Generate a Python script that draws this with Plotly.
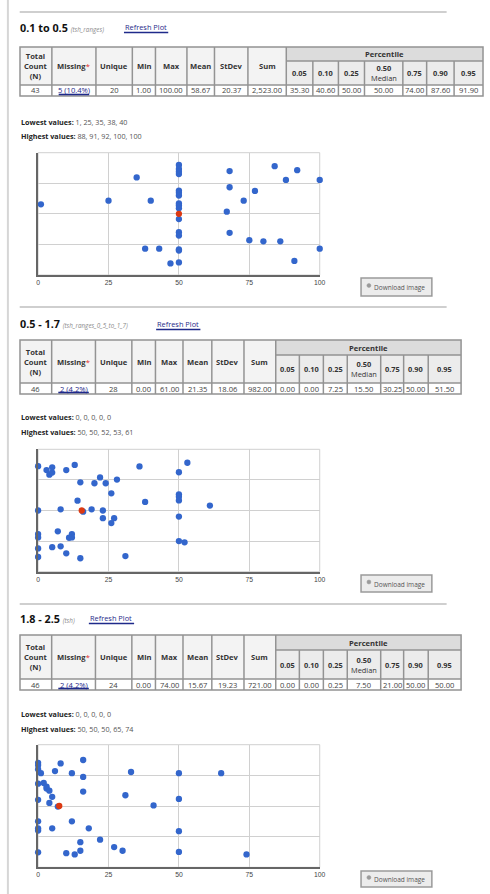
import plotly.graph_objects as go

W, H = 490, 894

# ---------------- data ----------------
titles = ["0.1 to 0.5", "0.5 - 1.7", "1.8 - 2.5"]
var_names = ["(tsh_ranges)", "(tsh_ranges_0_5_to_1_7)", "(tsh)"]

stat_headers = ["Total<br>Count<br>(N)", "Missing", "Unique", "Min", "Max", "Mean", "StDev", "Sum"]
pct_headers = ["0.05", "0.10", "0.25", "0.50", "0.75", "0.90", "0.95"]

stats_1 = ["43", "5 (10.4%)", "20", "1.00", "100.00", "58.67", "20.37", "2,523.00"]
pcts_1 = ["35.30", "40.60", "50.00", "50.00", "74.00", "87.60", "91.90"]
lowest_1 = [1, 25, 35, 38, 40]
highest_1 = [88, 91, 92, 100, 100]

stats_2 = ["46", "2 (4.2%)", "28", "0.00", "61.00", "21.35", "18.06", "982.00"]
pcts_2 = ["0.00", "0.00", "7.25", "15.50", "30.25", "50.00", "51.50"]
lowest_2 = [0, 0, 0, 0, 0]
highest_2 = [50, 50, 52, 53, 61]

stats_3 = ["46", "2 (4.2%)", "24", "0.00", "74.00", "15.67", "19.23", "721.00"]
pcts_3 = ["0.00", "0.00", "0.25", "7.50", "21.00", "50.00", "50.00"]
lowest_3 = [0, 0, 0, 0, 0]
highest_3 = [50, 50, 50, 65, 74]

# observed values and their vertical jitter offsets
values_1 = [1, 25, 35, 38, 40, 43, 47,
            50, 50, 50, 50, 50, 50, 50, 50, 50, 50, 50, 50, 50, 50, 50, 50,
            67, 68, 68, 68, 73, 75, 77, 80, 84, 86, 88, 91, 92, 100, 100]
jitter_1 = [2.31, 2.43, 3.19, 0.86, 2.43, 0.86, 0.38,
            3.60, 3.47, 3.38, 3.30, 2.76, 2.69, 2.60, 2.34, 2.27, 2.18, 1.83, 1.40, 1.29, 0.84, 0.80, 0.41,
            2.07, 3.40, 2.87, 1.38, 2.43, 1.14, 2.75, 1.10, 3.56, 1.10, 3.11, 0.46, 3.43, 3.11, 0.86]

values_2 = [0, 3, 4, 5, 5, 10, 13, 15, 20, 22, 24, 28, 36, 50, 53, 26, 14, 38, 50, 50, 50, 61,
            0, 8, 16, 19, 23, 23, 27, 26, 50, 7, 12, 12, 11, 0, 0, 50, 52, 0, 5, 8, 10, 0, 15, 31]
jitter_2 = [3.45, 3.32, 3.17, 3.24, 3.41, 3.32, 3.49, 2.92, 2.89, 3.08, 2.89, 3.01, 3.44, 3.25, 3.56,
            2.56, 2.32, 2.28, 2.53, 2.45, 2.33, 2.16, 2.00, 2.04, 1.96, 2.04, 2.00, 1.75, 1.75, 1.59,
            1.80, 1.32, 1.23, 1.12, 1.11, 1.23, 1.12, 1.00, 0.96, 0.76, 0.80, 0.83, 0.60, 0.48, 0.44, 0.51]

values_3 = [0, 0, 0, 1, 8, 16, 6, 12, 16, 33, 50, 65, 0, 2, 3, 3, 4, 16, 5, 31, 50, 0, 4, 7, 41,
            0, 12, 0, 0, 5, 18, 50, 22, 15, 27, 30, 15, 0, 10, 13, 50, 74]
jitter_3 = [3.41, 3.34, 3.20, 3.07, 3.39, 3.50, 3.14, 3.07, 2.95, 3.11, 3.07, 3.07, 2.73, 2.75, 2.63,
            2.57, 2.50, 2.47, 2.30, 2.35, 2.23, 2.20, 2.10, 1.98, 2.02, 1.50, 1.50, 1.27, 1.20, 1.27,
            1.27, 1.18, 0.90, 0.82, 0.66, 0.54, 0.54, 0.49, 0.46, 0.42, 0.50, 0.42]

x_ticks = [0, 25, 50, 75, 100]

# ---------------- page geometry (pixels) ----------------
cols_wide = [18.3, 50.7, 95.5, 132.5, 156, 188, 216, 250, 289, 316, 342, 368.5, 407.5, 431.7, 459.6, 489]
cols_narrow = [18.3, 50.5, 95, 132, 156, 184, 213.3, 246, 278.3, 302.3, 326.7, 351, 385, 408.3, 433.3, 466.7]

sections = [
    dict(sep=12, title=27, refresh_x=124, refresh_w=45,
         table=(47, 61, 85, 96), cols=cols_wide, low=121.7, high=136,
         plot=(152.7, 275), button=(278, 296),
         stats=stats_1, pcts=pcts_1, lowest=lowest_1, highest=highest_1,
         values=values_1, jitter=jitter_1),
    dict(sep=307, title=324, refresh_x=156.7, refresh_w=45,
         table=(340, 355, 383, 394), cols=cols_narrow, low=417.3, high=431.7,
         plot=(449.3, 571.7), button=(575, 592),
         stats=stats_2, pcts=pcts_2, lowest=lowest_2, highest=highest_2,
         values=values_2, jitter=jitter_2),
    dict(sep=604, title=618, refresh_x=88.3, refresh_w=46,
         table=(635, 650, 679, 690), cols=cols_narrow, low=714, high=729,
         plot=(744.7, 867.3), button=(871, 887),
         stats=stats_3, pcts=pcts_3, lowest=lowest_3, highest=highest_3,
         values=values_3, jitter=jitter_3),
]
PLOT_X0, PLOT_X1 = 36.7, 323

FONT = "Open Sans, Noto Sans, sans-serif"
BLUE = "#3366cc"
RED = "#dc3912"
NAVY = "#1f2a8a"


def fx(x):
    return x / W


def fy(y):
    return 1 - y / H


shapes = []
annotations = []


def line(x0, y0, x1, y1, color="#999", width=1):
    shapes.append(dict(type="line", xref="paper", yref="paper",
                       x0=fx(x0), y0=fy(y0), x1=fx(x1), y1=fy(y1),
                       line=dict(color=color, width=width)))


def rect(x0, y0, x1, y1, fill=None, color=None, width=0):
    shapes.append(dict(type="rect", xref="paper", yref="paper",
                       x0=fx(x0), y0=fy(y0), x1=fx(x1), y1=fy(y1),
                       fillcolor=fill or "rgba(0,0,0,0)",
                       line=dict(color=color or "rgba(0,0,0,0)", width=width)))


def text(x, y, s, size=7.5, color="#333", xanchor="center", family=FONT):
    annotations.append(dict(x=fx(x), y=fy(y), xref="paper", yref="paper",
                            text=s, showarrow=False, xanchor=xanchor, yanchor="middle",
                            borderpad=0,
                            font=dict(size=size, color=color, family=family)))


# left page rule
line(6, 0, 6, H, "#d6d6d6", 2)

fig = go.Figure()

for i, sec in enumerate(sections):
    # section separator
    line(18, sec["sep"], 452, sec["sep"], "#cfcfcf", 2)

    # heading: title, variable name, refresh link
    text(17, sec["title"],
         "<b>%s</b> <span style='font-size:6.3px;color:#8a8a8a'><i>%s</i></span>"
         % (titles[i], var_names[i]),
         size=10.8, color="#111", xanchor="left")
    text(sec["refresh_x"], sec["title"], "Refresh Plot", size=7.4, color=NAVY, xanchor="left")
    line(sec["refresh_x"], sec["title"] + 5.5, sec["refresh_x"] + sec["refresh_w"],
         sec["title"] + 5.5, NAVY, 1.6)

    # statistics table
    top, r1, r2, bot = sec["table"]
    c = sec["cols"]
    rect(c[0], top, c[8], r2, fill="#f3f3f3")
    rect(c[8], top, c[15], r1, fill="#dcdcdc")
    rect(c[8], r1, c[15], r2, fill="#ececec")
    rect(c[0], r2, c[15], bot, fill="#ffffff")
    grid = "#939393"
    rect(c[0], top, c[15], bot, color=grid, width=1.5)
    line(c[0], r2, c[15], r2, grid, 1.5)
    line(c[8], r1, c[15], r1, grid, 1.5)
    for k in range(1, 15):
        y_start = top if k <= 8 else r1
        line(c[k], y_start, c[k], bot, grid, 1.5)

    for k, h in enumerate(stat_headers):
        label = "<b>%s</b>" % h
        if h == "Missing":
            label += "<span style='color:#e02a2a'>*</span>"
        text((c[k] + c[k + 1]) / 2, (top + r2) / 2, label, size=7.6, color="#333")
    text((c[8] + c[15]) / 2, (top + r1) / 2, "<b>Percentile</b>", size=7.6, color="#333")
    for k, h in enumerate(pct_headers):
        label = "<b>%s</b>" % h
        if h == "0.50":
            label += "<br>Median"
        text((c[8 + k] + c[9 + k]) / 2, (r1 + r2) / 2, label, size=7.4, color="#333")

    ymid = (r2 + bot) / 2
    for k, v in enumerate(sec["stats"]):
        xc = (c[k] + c[k + 1]) / 2
        if k == 1:
            text(xc, ymid, v, size=7.6, color=NAVY)
            line(xc - 15.5, bot - 1.5, xc + 15.5, bot - 1.5, NAVY, 1.6)
        else:
            text(xc, ymid, v, size=7.6, color="#444")
    for k, v in enumerate(sec["pcts"]):
        text((c[8 + k] + c[9 + k]) / 2, ymid, v, size=7.6, color="#444")

    # lowest / highest values
    text(18, sec["low"], "<b>Lowest values:</b> <span style='color:#555'>%s</span>"
         % ", ".join(str(v) for v in sec["lowest"]), size=7.2, color="#222", xanchor="left")
    text(18, sec["high"], "<b>Highest values:</b> <span style='color:#555'>%s</span>"
         % ", ".join(str(v) for v in sec["highest"]), size=7.2, color="#222", xanchor="left")

    # download button
    b0, b1 = sec["button"]
    rect(365, b0, 437, b1, fill="#ececec", color="#9a9a9a", width=1.5)
    shapes.append(dict(type="circle", xref="paper", yref="paper",
                       x0=fx(371), x1=fx(375), y0=fy((b0 + b1) / 2 - 3.5), y1=fy((b0 + b1) / 2 + 0.5),
                       fillcolor="#9a9a9a", line=dict(color="#9a9a9a", width=0.5)))
    text(404, (b0 + b1) / 2 + 0.5, "Download image", size=6.5, color="#555")

    # jitter scatter
    ax = "" if i == 0 else str(i + 1)
    p0, p1 = sec["plot"]
    median = float(sec["pcts"][3])
    fig.add_trace(go.Scatter(x=sec["values"], y=sec["jitter"], mode="markers",
                             marker=dict(color=BLUE, size=6.3, line=dict(width=0)),
                             cliponaxis=False, showlegend=False, hoverinfo="x",
                             xaxis="x" + ax, yaxis="y" + ax))
    fig.add_trace(go.Scatter(x=[median], y=[2], mode="markers",
                             marker=dict(color=RED, size=6.3, line=dict(width=0)),
                             cliponaxis=False, showlegend=False, hoverinfo="x",
                             xaxis="x" + ax, yaxis="y" + ax))
    shapes.append(dict(type="rect", xref="x%s domain" % ax, yref="y%s domain" % ax,
                       x0=0, x1=1, y0=0, y1=1, layer="below",
                       line=dict(color="#d0d0d0", width=1)))
    fig.layout["xaxis" + ax] = dict(
        domain=[fx(PLOT_X0), fx(PLOT_X1)], range=[0, 100], anchor="y" + ax,
        tickvals=x_ticks, showgrid=True, gridcolor="#d0d0d0", gridwidth=1,
        zeroline=False, showline=True, linecolor="#666", linewidth=1.5,
        ticks="", tickfont=dict(size=6.8, color="#444", family="Arial, Liberation Sans"),
        fixedrange=True)
    fig.layout["yaxis" + ax] = dict(
        domain=[fy(p1), fy(p0)], range=[0, 4], anchor="x" + ax,
        tickvals=[1, 2, 3, 4], showticklabels=False, showgrid=True, gridcolor="#d0d0d0",
        gridwidth=1, zeroline=False, showline=True, linecolor="#666", linewidth=1.5,
        ticks="", fixedrange=True)

fig.update_layout(
    width=W, height=H, margin=dict(l=0, r=0, t=0, b=0),
    paper_bgcolor="white", plot_bgcolor="white",
    shapes=shapes, annotations=annotations, showlegend=False,
    font=dict(family=FONT),
)

fig.write_html("out.html")
